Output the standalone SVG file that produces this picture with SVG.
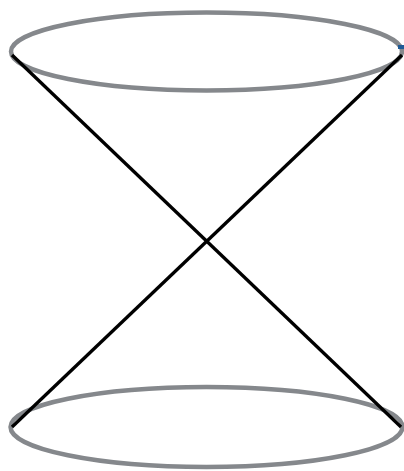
<svg xmlns="http://www.w3.org/2000/svg" width="404" height="471" viewBox="0 0 404 471">
<style>
.rim{fill:none;stroke:#85888c;stroke-width:4.5}
.edge{stroke:#000;stroke-width:3.3;fill:none}
</style>
<rect width="404" height="471" fill="#fff"/>
<g id="top-rim"><ellipse class="rim" cx="206.5" cy="51.5" rx="195.5" ry="39"/></g>
<g id="bottom-rim"><ellipse class="rim" cx="206.5" cy="427" rx="196" ry="40"/></g>
<g id="connectors">
<line class="edge" x1="12" y1="55" x2="401" y2="427"/>
<line class="edge" x1="402" y1="55" x2="12" y2="427"/>
</g>
<rect x="398" y="45" width="6" height="4" fill="#1f5a96"/>
</svg>
